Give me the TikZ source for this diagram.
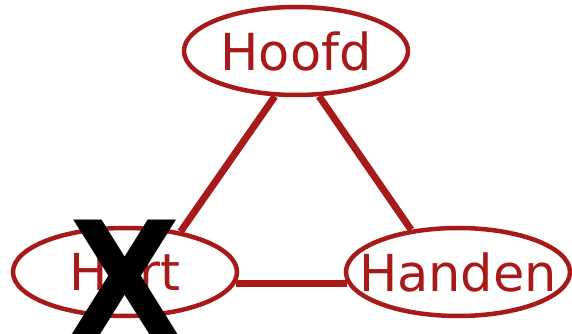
\documentclass[tikz,border=0pt]{standalone}
\usepackage{fontspec}
\usetikzlibrary{shapes}
\newfontfamily\partfont{DejaVu Sans}
\newfontfamily\crossfont{DejaVu Sans}
\definecolor{hhred}{RGB}{168,26,26}

\begin{document}
\begin{tikzpicture}[x=1pt, y=1pt]
        \tikzset{
            part/.style={
                ellipse,
                draw=hhred,
                line width=4.5pt,
                text=hhred,
                inner xsep=-60pt,
                inner ysep=0pt,
                minimum width=224pt,
                minimum height=88pt,
                font=\partfont\fontsize{51}{51}\selectfont
            },
            link/.style={
                -,
                draw=hhred,
                line width=7pt
            }
        }
        \useasboundingbox (0,0) rectangle (572,334);

        \node (hoofd) [part] at (296,283) {Hoofd};
        \node (hart) [part] at (125,62) {Hart};
        \node (handen) [part] at (458,62) {Handen};

        \draw[link] (hoofd.245.5) to (hart.36);
        \draw[link] (hoofd.297.6) to (handen.138.4);
        \draw[link] (hart.-6.5) to (handen.186.5);

        \node (cross) [
            inner sep=0pt,
            xscale=0.92,
            font=\crossfont\bfseries\fontsize{157}{157}\selectfont
        ] at (125,57) {X};
    \end{tikzpicture}
\end{document}
